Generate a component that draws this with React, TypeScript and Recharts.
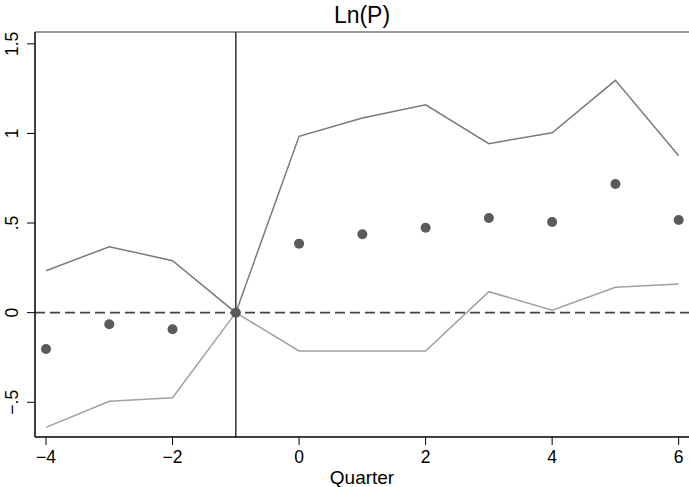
import React from "react";
import {
  ComposedChart,
  Line,
  Scatter,
  XAxis,
  YAxis,
  ReferenceLine,
} from "recharts";

const quarters = [-4, -3, -2, -1, 0, 1, 2, 3, 4, 5, 6];
const coef = [-0.203, -0.065, -0.093, 0, 0.385, 0.437, 0.474, 0.528, 0.506, 0.718, 0.517];
const upper = [0.234, 0.368, 0.29, 0, 0.984, 1.086, 1.16, 0.943, 1.004, 1.296, 0.876];
const lower = [-0.64, -0.495, -0.475, 0, -0.214, -0.214, -0.214, 0.117, 0.013, 0.141, 0.16];

const xTickValues = [-4, -2, 0, 2, 4, 6];
const xTickLabels = ["\u22124", "\u22122", "0", "2", "4", "6"];
const yTickValues = [-0.5, 0, 0.5, 1, 1.5];
const yTickLabels = ["\u2212.5", "0", ".5", "1", "1.5"];

const title = "Ln(P)";
const xLabel = "Quarter";

const data = quarters.map((q, i) => ({
  q,
  coef: coef[i],
  upper: upper[i],
  lower: lower[i],
}));

const FONT = "'Liberation Sans', Arial, Helvetica, sans-serif";

const YTick = (props: any) => {
  const { x, y, payload } = props;
  const idx = yTickValues.indexOf(payload.value);
  const label = idx >= 0 ? yTickLabels[idx] : String(payload.value);
  const bx = x - 7;
  return (
    <text
      x={bx}
      y={y}
      transform={`rotate(-90 ${bx} ${y})`}
      textAnchor="middle"
      fontSize={17.5}
      fontFamily={FONT}
      fill="#000"
    >
      {label}
    </text>
  );
};

const xFmt = (v: number) => {
  const idx = xTickValues.indexOf(v);
  return idx >= 0 ? xTickLabels[idx] : String(v);
};

const Dot = (p: any) => <circle cx={p.cx} cy={p.cy} r={5} fill="#5a5a5a" />;

export default function App() {
  return (
    <div
      style={{
        position: "absolute",
        left: 0,
        top: 0,
        width: 689,
        height: 487,
        background: "#fff",
        fontFamily: FONT,
      }}
    >
      <div
        style={{
          position: "absolute",
          left: 35,
          width: 654,
          top: 2.5,
          textAlign: "center",
          fontSize: 23,
          lineHeight: "24px",
          color: "#000",
          fontFamily: FONT,
        }}
      >
        {title}
      </div>
      <ComposedChart
        width={689}
        height={487}
        data={data}
        margin={{ top: 32, right: 0, bottom: 0, left: 0 }}
      >
        <XAxis
          dataKey="q"
          type="number"
          domain={[-4.174, 6.163]}
          ticks={xTickValues}
          tickFormatter={xFmt}
          tickSize={8}
          tickMargin={6}
          height={50}
          axisLine={{ stroke: "#000", strokeWidth: 1.5 }}
          tickLine={{ stroke: "#000", strokeWidth: 1 }}
          tick={{ fill: "#000", fontSize: 17.5, fontFamily: FONT }}
          allowDataOverflow
          label={{
            value: xLabel,
            position: "insideBottom",
            offset: 3,
            fill: "#000",
            fontSize: 19,
            fontFamily: FONT,
          }}
        />
        <YAxis
          type="number"
          domain={[-0.694, 1.566]}
          ticks={yTickValues}
          width={35}
          tickSize={8}
          axisLine={{ stroke: "#000", strokeWidth: 1.5 }}
          tickLine={{ stroke: "#000", strokeWidth: 1 }}
          tick={<YTick />}
          allowDataOverflow
        />
        <ReferenceLine y={1.566} stroke="#777" strokeWidth={1.5} />
        <ReferenceLine y={0} stroke="#444" strokeWidth={1.6} strokeDasharray="10 5" />
        <ReferenceLine x={-1} stroke="#333" strokeWidth={1.5} />
        <Line
          dataKey="upper"
          type="linear"
          stroke="#7a7a7a"
          strokeWidth={1.5}
          dot={false}
          isAnimationActive={false}
        />
        <Line
          dataKey="lower"
          type="linear"
          stroke="#a0a0a0"
          strokeWidth={1.5}
          dot={false}
          isAnimationActive={false}
        />
        <Scatter dataKey="coef" shape={<Dot />} isAnimationActive={false} />
      </ComposedChart>
    </div>
  );
}
